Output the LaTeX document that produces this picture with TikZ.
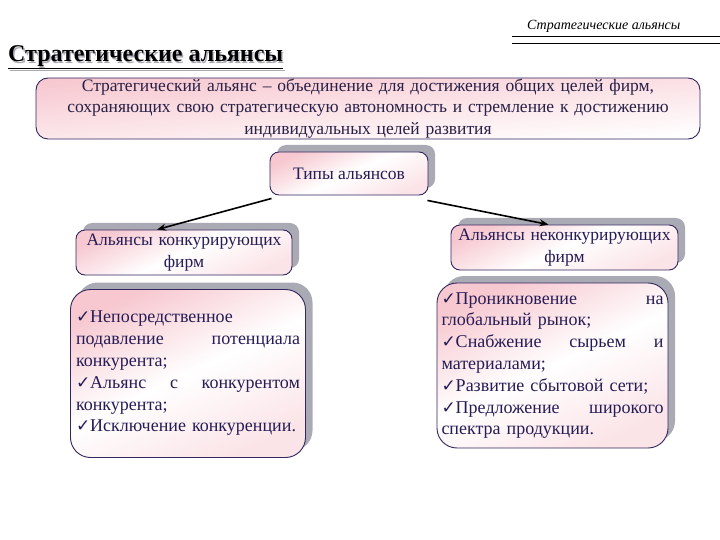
\documentclass[tikz,border=0pt]{standalone}
\usepackage{fontspec}
\setmainfont{Liberation Serif}
\newfontfamily\dejavu{DejaVu Sans}
\usetikzlibrary{arrows.meta,shadows}
\definecolor{boxborder}{RGB}{50,38,95}
\definecolor{boxtext}{RGB}{38,28,85}
\definecolor{deftext}{RGB}{40,32,70}
\definecolor{pinkA}{RGB}{247,200,208}
\definecolor{shadowgray}{RGB}{170,170,180}
\newcommand{\chk}{{\dejavu\fontsize{17}{17}\selectfont ✓}}
\tikzset{
  pinkbox/.style={draw=boxborder, line width=0.9pt, rounded corners=#1,
    top color=pinkA, bottom color=pinkA!50, middle color=white, shading angle=25},
  shbox/.style={pinkbox=#1, general shadow={fill=shadowgray, shadow xshift=7pt, shadow yshift=7pt}},
  txt/.style={font=\fontsize{17.5}{21.5}\selectfont, inner sep=0pt},
  bigtxt/.style={font=\fontsize{18}{21.8}\selectfont, inner sep=0pt},
  arr/.style={-{Stealth[length=9pt,width=7pt]}, line width=1.6pt, black},
}
\begin{document}
\begin{tikzpicture}[x=1pt,y=-1pt]
\useasboundingbox (0,0) rectangle (720,540);
% header
\node[anchor=base west, inner sep=0pt, font=\fontsize{14}{14}\itshape] (hdr) at (527,30) {Стратегические альянсы};
\coordinate (l1a) at (512,36); \coordinate (l1b) at (720,36);
\coordinate (l2a) at (512,43); \coordinate (l2b) at (720,43);
\draw[line width=0.8pt] (l1a) -- (l1b);
\draw[line width=0.8pt] (l2a) -- (l2b);
% title
\node[anchor=base west, inner sep=0pt, font=\fontsize{24}{24}\bfseries, text=shadowgray] (tsh) at (9.3,63.3) {\underline{Стратегические альянсы}};
\node[anchor=base west, inner sep=0pt, font=\fontsize{24}{24}\bfseries] (title) at (8,62) {\underline{Стратегические альянсы}};
% definition
\node[pinkbox=12pt, bottom color=white, shading angle=4, minimum width=664pt, minimum height=61pt, txt, text width=650pt, align=center, text=deftext] (def) at (368,108.5)
{Стратегический альянс -- объединение для достижения общих целей фирм,\\ сохраняющих свою стратегическую автономность и стремление к достижению\\ индивидуальных целей развития};
% types
\node[shbox=9pt, minimum width=158pt, minimum height=43pt, txt, text=boxtext] (types) at (349,173.5) {Типы альянсов};
% second level
\node[shbox=9pt, minimum width=216pt, minimum height=45pt, txt, text width=210pt, align=center, text=boxtext] (lc) at (184,252.5) {Альянсы конкурирующих\\ фирм};
\node[shbox=9pt, minimum width=227pt, minimum height=45pt, txt, text width=222pt, align=center, text=boxtext] (rc) at (564.5,247.5) {Альянсы неконкурирующих\\ фирм};
% big boxes
\node[shbox=20pt, minimum width=235pt, minimum height=168pt, bigtxt, text width=224pt, align=left, text=boxtext] (lb) at (188,373.5)
{\chk Непосредственное\\
подавление\hfill потенциала\\
конкурента;\\
\chk Альянс\hfill с\hfill конкурентом\\
конкурента;\\
\chk Исключение конкуренции.};
\node[shbox=20pt, minimum width=231pt, minimum height=165pt, bigtxt, text width=222pt, align=left, text=boxtext] (rb) at (552.5,365.5)
{\chk Проникновение\hfill на\\
глобальный рынок;\\
\chk Снабжение\hfill сырьем\hfill и\\
материалами;\\
\chk Развитие сбытовой сети;\\
\chk Предложение\hfill широкого\\
спектра продукции.};
% arrows
\draw[arr] ([xshift=2pt,yshift=-3pt]types.south west) -- ([xshift=-27pt]lc.north);
\draw[arr] ([xshift=-1pt,yshift=-5pt]types.south east) -- ([xshift=-16pt]rc.north);
\end{tikzpicture}
\end{document}
